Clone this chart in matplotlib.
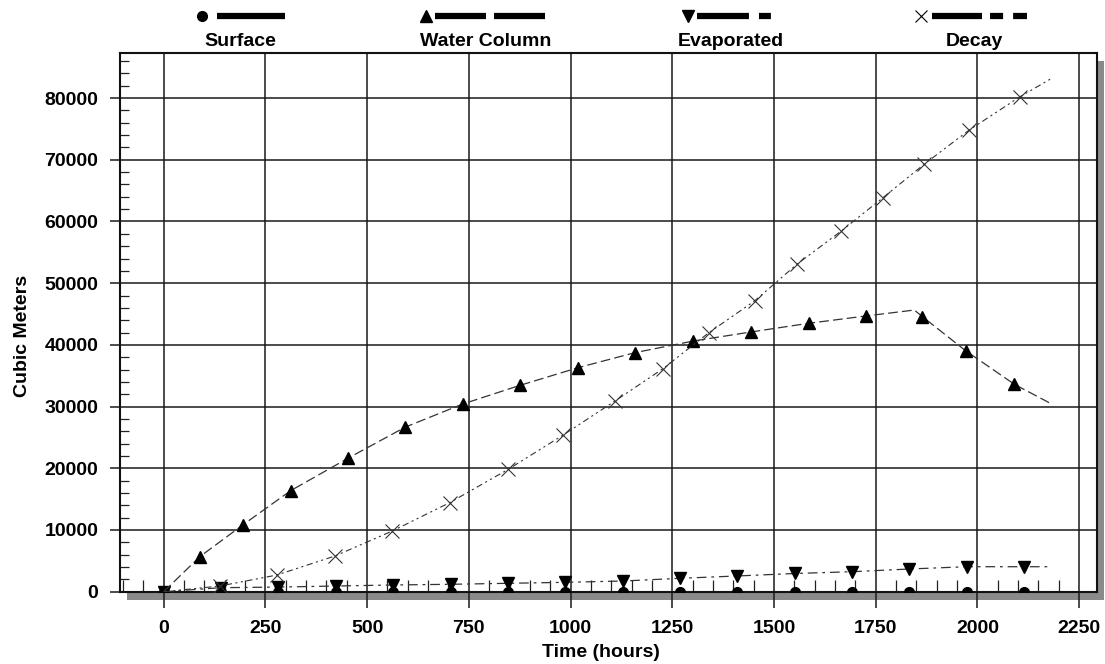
import matplotlib
matplotlib.use('Agg')
import matplotlib.pyplot as plt
from matplotlib.lines import Line2D
from matplotlib.patches import Rectangle
from matplotlib.ticker import MultipleLocator

plt.rcParams['font.family'] = ['Liberation Sans', 'DejaVu Sans']
plt.rcParams['font.weight'] = 'bold'
plt.rcParams['lines.scale_dashes'] = False

# данные (часы, м3)
surf_t = [0, 141, 282, 423, 564, 705, 846, 987, 1128, 1269, 1410, 1551, 1692, 1833, 1974, 2115, 2180]
surf_v = [0, 0, 0, 0, 0, 0, 0, 0, 0, 0, 0, 0, 0, 0, 0, 0, 0]

evap_t = [0, 141, 282, 423, 564, 705, 846, 987, 1128, 1269, 1410, 1551, 1692, 1833, 1974, 2115, 2178]
evap_v = [0, 650, 750, 920, 1090, 1200, 1360, 1520, 1730, 2170, 2550, 2950, 3240, 3680, 4050, 4050, 4050]

water_t = [0, 89, 194, 312, 454, 593, 735, 876, 1018, 1158, 1302, 1443, 1585, 1725, 1845, 1865, 1971, 2091, 2184]
water_v = [0, 5690, 10800, 16370, 21670, 26650, 30420, 33450, 36300, 38740, 40630, 42090, 43500,
           44680, 45650, 44570, 39060, 33610, 30370]

decay_t = [0, 138, 278, 421, 562, 703, 847, 982, 1109, 1227, 1340, 1453, 1557, 1665, 1767, 1870,
           1980, 2105, 2185]
decay_v = [0, 920, 2700, 5790, 9840, 14430, 19840, 25400, 30900, 36140, 41980, 47160, 53100,
           58440, 63810, 69320, 74830, 80230, 83300]

# где стоят маркеры
surf_marks = list(range(16))
evap_marks = list(range(16))
water_marks = list(range(1, 14)) + [15, 16, 17]
decay_marks = list(range(1, 18))

LINE_C = '#333333'
FS = 14

fig = plt.figure(figsize=(11.05, 6.64), dpi=100)

# подложка: тень и легенда в пикселях
bg = fig.add_axes([0, 0, 1, 1], zorder=0)
bg.set_xlim(0, 1105)
bg.set_ylim(664, 0)
bg.axis('off')
bg.add_patch(Rectangle((127, 61), 977, 539, color='#8a8a8a', lw=0))

ax = fig.add_axes([120 / 1105, 1 - 591.7 / 664, 977 / 1105, 538.4 / 664], zorder=1)

ax.plot(surf_t, surf_v, '-', color=LINE_C, lw=0.9, marker='o', ms=7, mfc='black', mec='black',
        markevery=surf_marks, zorder=3)
ax.plot(evap_t, evap_v, color=LINE_C, lw=0.9, dashes=(7, 3.5, 2, 3.5), marker='v', ms=9,
        mfc='black', mec='black', markevery=evap_marks, zorder=4)
ax.plot(water_t, water_v, color=LINE_C, lw=0.9, dashes=(7, 3), marker='^', ms=9,
        mfc='black', mec='black', markevery=water_marks, zorder=4)
ax.plot(decay_t, decay_v, color=LINE_C, lw=0.8, dashes=(4.5, 2.5, 1.5, 2.5, 1.5, 2.5), marker='x',
        ms=9.5, mec='#333333', mew=0.8, markevery=decay_marks, zorder=4)

ax.set_xlim(-107.4, 2294)
ax.set_ylim(0, 87260)
ax.xaxis.set_major_locator(MultipleLocator(250))
ax.xaxis.set_minor_locator(MultipleLocator(50))
ax.yaxis.set_major_locator(MultipleLocator(10000))
ax.yaxis.set_minor_locator(MultipleLocator(2000))

ax.grid(True, which='major', color='#1a1a1a', lw=1.1, zorder=1)
ax.set_axisbelow(True)
for s in ax.spines.values():
    s.set_linewidth(1.5)
    s.set_color('#111111')

ax.tick_params(axis='x', which='major', direction='out', length=11.5, width=1.1, pad=9,
               labelsize=FS, color='#1a1a1a')
ax.tick_params(axis='y', which='major', direction='out', length=7.2, width=1.1, pad=8.5,
               labelsize=FS, color='#1a1a1a')
ax.tick_params(axis='x', which='minor', direction='in', length=8.9, width=0.9, color='#222222')
ax.tick_params(axis='y', which='minor', direction='in', length=6.5, width=0.9, color='#222222')
for lab in ax.get_xticklabels() + ax.get_yticklabels():
    lab.set_fontweight('bold')

ax.set_xlabel('Time (hours)', fontsize=FS, fontweight='bold')
ax.set_ylabel('Cubic Meters', fontsize=FS, fontweight='bold')
ax.xaxis.label.set_verticalalignment('center')
ax.yaxis.label.set_verticalalignment('center')
ax.xaxis.set_label_coords(0.492, -0.113)
ax.yaxis.set_label_coords(-0.1, 0.475)

# легенда сверху
leg = [
    ('Surface', 'o', 7, 202, 217, 285, None, 240),
    ('Water Column', '^', 8, 426, 435, 545, (36.7, 5.8), 486),
    ('Evaporated', 'v', 8, 688, 697, 771, (37.4, 7.2, 8.6, 100), 731),
    ('Decay', 'x', 9, 921, 932, 1028, (36, 5.8, 9.4, 7.2, 10, 100), 974),
]
for name, mk, ms, mx, x0, x1, dsh, tx in leg:
    bg.plot([mx], [16], marker=mk, ms=ms, color='black', mew=0.8 if mk == 'x' else 1, ls='none')
    ln = Line2D([x0, x1], [16, 16], color='black', lw=4.5, solid_capstyle='butt',
                dash_capstyle='butt')
    if dsh is not None:
        ln.set_dashes(dsh)
    bg.add_line(ln)
    bg.text(tx, 41, name, ha='center', va='center', fontsize=FS, fontweight='bold')

fig.savefig('out.png', dpi=100)
